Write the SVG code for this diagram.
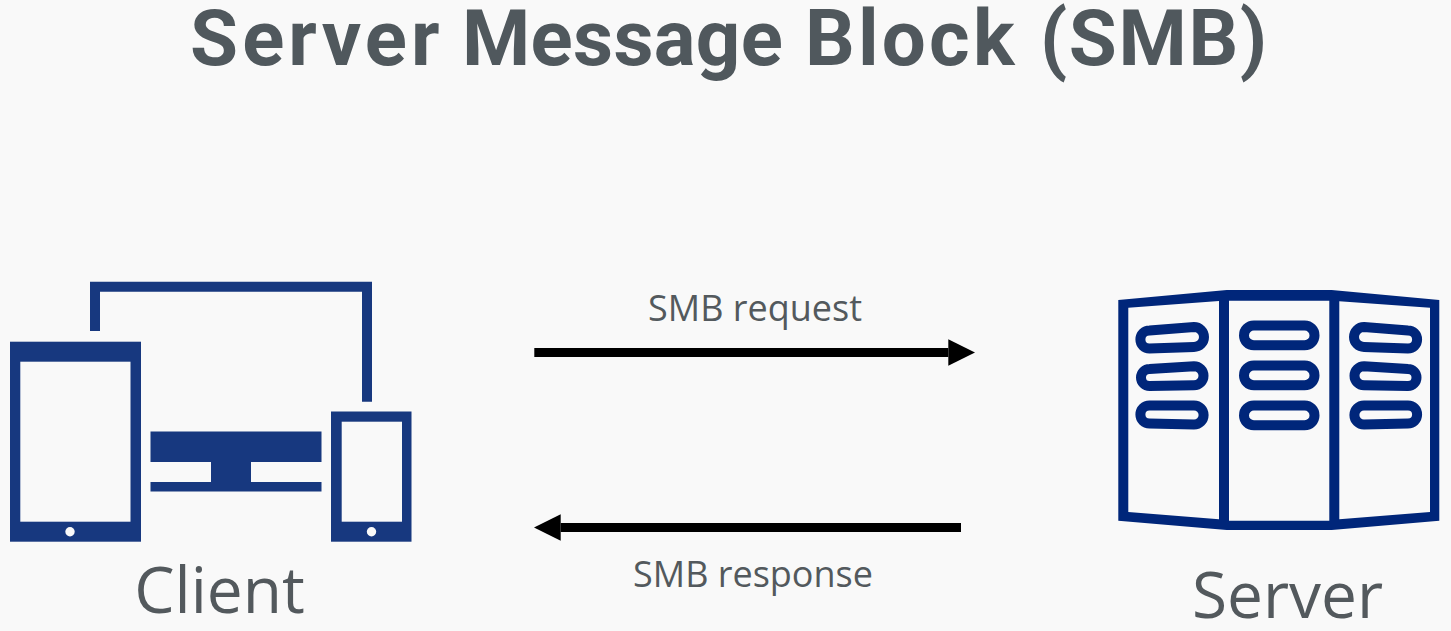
<svg xmlns="http://www.w3.org/2000/svg" width="1451" height="631" viewBox="0 0 1451 631">
<style>
.bg{fill:#f9f9f9}
.c{fill:#17387f}
.hole{fill:#f9f9f9}
.s{fill:#00267a;fill-rule:evenodd}
.p{fill:none;stroke:#00267a;stroke-width:10}
.t{fill:#53595d;font-family:"Open Sans",sans-serif}
.title{fill:#50585d;font-family:Roboto,sans-serif;font-weight:700;font-size:78px}
.conn{stroke:#000;stroke-width:9;fill:none}
</style>
<defs>
<marker id="head" markerUnits="userSpaceOnUse" markerWidth="27" markerHeight="27" refX="0" refY="13.2" orient="auto"><polygon points="0,0 26.7,13.2 0,26.4" fill="#000"/></marker>
</defs>
<rect class="bg" width="1451" height="631"/>
<text class="title" y="65"><tspan x="190" letter-spacing="4.1">Server</tspan> <tspan x="462" letter-spacing="0.3">Message</tspan> <tspan x="805" letter-spacing="3.2">Block</tspan> <tspan x="1040" letter-spacing="1.6">(SMB)</tspan></text>
<g id="client">
<path class="c" d="M90 281.7H372V401.7H362V291.7H100V331H90Z"/>
<rect class="c" x="10" y="341.7" width="131" height="200"/>
<rect class="hole" x="20.3" y="361.7" width="110.2" height="160"/>
<circle class="hole" cx="70" cy="531.7" r="4.7"/>
<path class="c" d="M150.5 431.5H321.5V462H251V482H321.5V491.5H150.5V482H211V462H150.5Z"/>
<rect class="c" x="331" y="411.5" width="80.5" height="130.2"/>
<rect class="hole" x="341.7" y="421.7" width="60.3" height="100"/>
<circle class="hole" cx="371.5" cy="531.7" r="4.7"/>
<text class="t" x="219.5" y="613" font-size="64" text-anchor="middle">Client</text>
</g>
<g id="server">
<path class="s" d="M1118.3 300L1226.7 290H1331.7L1439.3 300V520.7L1331.7 530H1226.7L1118.3 520.7Z M1128.3 307.7L1219 301V519.3L1128.3 512Z M1229 300.7H1329.3V520.7H1229Z M1339.3 301.3L1430 307.7V512L1339.3 519.3Z"/>
<rect class="p" x="1244" y="325.5" width="70.5" height="19.8" rx="9.9"/>
<rect class="p" x="1244" y="365.5" width="70.5" height="19.8" rx="9.9"/>
<rect class="p" x="1244" y="405.5" width="70.5" height="19.8" rx="9.9"/>
<path class="p" d="M1149.5 330.4L1194 327A10 10 0 0 1 1194 347L1149.5 348.6A9.1 9.1 0 0 1 1149.5 330.4Z"/>
<path class="p" d="M1149.5 369L1194 366.3A9.5 9.5 0 0 1 1194 385.3L1149.5 386A8.5 8.5 0 0 1 1149.5 369Z"/>
<path class="p" d="M1149.5 405.4H1194A9.6 9.6 0 0 1 1194 424.6L1149.5 423.6A9.1 9.1 0 0 1 1149.5 405.4Z"/>
<path class="p" d="M1364 327L1408 330.4A9.1 9.1 0 0 1 1408 348.6L1364 347A10 10 0 0 1 1364 327Z"/>
<path class="p" d="M1364 366.3L1408 369A8.5 8.5 0 0 1 1408 386L1364 385.3A9.5 9.5 0 0 1 1364 366.3Z"/>
<path class="p" d="M1364 405.4H1408A9.1 9.1 0 0 1 1408 423.6L1364 424.6A9.6 9.6 0 0 1 1364 405.4Z"/>
<text class="t" x="1287.5" y="618" font-size="64" text-anchor="middle">Server</text>
</g>
<g id="connectors">
<line class="conn" x1="534.3" y1="352.5" x2="948.3" y2="352.5" marker-end="url(#head)"/>
<line class="conn" x1="961" y1="527.5" x2="560.7" y2="527.5" marker-end="url(#head)"/>
<text class="t" x="755" y="321" font-size="36" text-anchor="middle">SMB request</text>
<text class="t" x="753" y="587" font-size="36" text-anchor="middle">SMB response</text>
</g>
</svg>
